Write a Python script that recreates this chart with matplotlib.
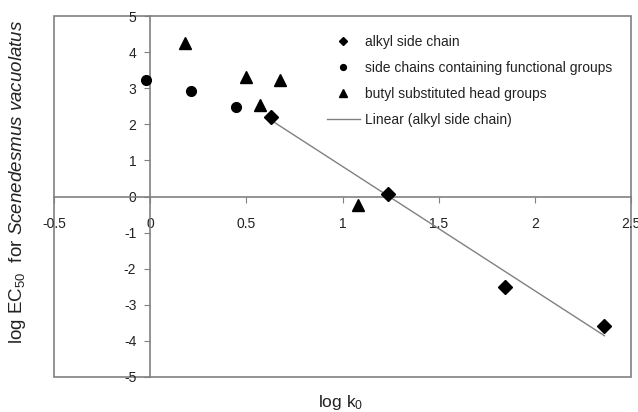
import matplotlib
matplotlib.use("Agg")
import matplotlib.pyplot as plt
from matplotlib.patches import Rectangle
import numpy as np

plt.rcParams['font.family'] = ['Liberation Sans', 'DejaVu Sans']
plt.rcParams['mathtext.fontset'] = 'custom'
plt.rcParams['mathtext.rm'] = 'Liberation Sans'
plt.rcParams['mathtext.it'] = 'Liberation Sans:italic'
plt.rcParams['axes.unicode_minus'] = False

# data
alkyl_x = [0.627, 1.236, 1.846, 2.362]
alkyl_y = [2.21, 0.07, -2.50, -3.58]
func_x = [-0.02, 0.21, 0.447]
func_y = [3.23, 2.92, 2.49]
butyl_x = [0.18, 0.50, 0.57, 0.675, 1.08]
butyl_y = [4.25, 3.30, 2.53, 3.23, -0.24]

x_ticks = [-0.5, 0, 0.5, 1, 1.5, 2, 2.5]
x_labels = ['-0.5', '0', '0.5', '1', '1.5', '2', '2.5']
y_ticks = [-5, -4, -3, -2, -1, 0, 1, 2, 3, 4, 5]

grey = '#808080'
txt = '#222222'

fig = plt.figure(figsize=(6.38, 4.12), dpi=100)
ax = fig.add_axes([54 / 638, 1 - 377 / 412, 577 / 638, 361 / 412])
ax.set_xlim(-0.5, 2.5)
ax.set_ylim(-5, 5)

# axes through the origin, box around
for s in ['top', 'right']:
    ax.spines[s].set_visible(False)
ax.spines['left'].set_position(('data', 0))
ax.spines['bottom'].set_position(('data', 0))
for s in ['left', 'bottom']:
    ax.spines[s].set_color(grey)
    ax.spines[s].set_linewidth(1.2)
ax.add_patch(Rectangle((0, 0), 1, 1, transform=ax.transAxes, fill=False,
                       edgecolor=grey, linewidth=1.2, clip_on=False))

ax.set_xticks(x_ticks)
ax.set_xticklabels(x_labels)
ax.set_yticks(y_ticks)
ax.tick_params(axis='x', direction='out', length=4, color=grey, pad=11,
               labelsize=10, labelcolor=txt)
ax.tick_params(axis='y', direction='out', length=4, color=grey, pad=6,
               labelsize=10, labelcolor=txt)

ax.plot(alkyl_x, alkyl_y, 'D', color='black', ms=7, ls='none',
        label='alkyl side chain', clip_on=False, zorder=5)
ax.plot(func_x, func_y, 'o', color='black', ms=7, ls='none',
        label='side chains containing functional groups', clip_on=False, zorder=5)
ax.plot(butyl_x, butyl_y, '^', color='black', ms=9, ls='none',
        label='butyl substituted head groups', clip_on=False, zorder=5)

k, b = np.polyfit(alkyl_x, alkyl_y, 1)
fx = np.array([min(alkyl_x), max(alkyl_x)])
ax.plot(fx, k * fx + b, color=grey, lw=1, label='Linear (alkyl side chain)')

leg = ax.legend(loc='upper left', bbox_to_anchor=(0.463, 0.963), frameon=False,
                fontsize=10, markerscale=0.6, handlelength=2.4, labelspacing=0.87,
                handletextpad=0.36, borderaxespad=0)
for t in leg.get_texts():
    t.set_color(txt)

fig.text(341 / 638, 1 - 402 / 412, 'log k$_0$', ha='center', va='center',
         fontsize=12.5, color=txt)
fig.text(18 / 638, 1 - 182 / 412,
         'log EC$_{50}$  for $\\it{Scenedesmus\\ vacuolatus}$',
         ha='center', va='center', rotation=90, fontsize=13.5, color=txt)

fig.savefig('out.png', dpi=100)
